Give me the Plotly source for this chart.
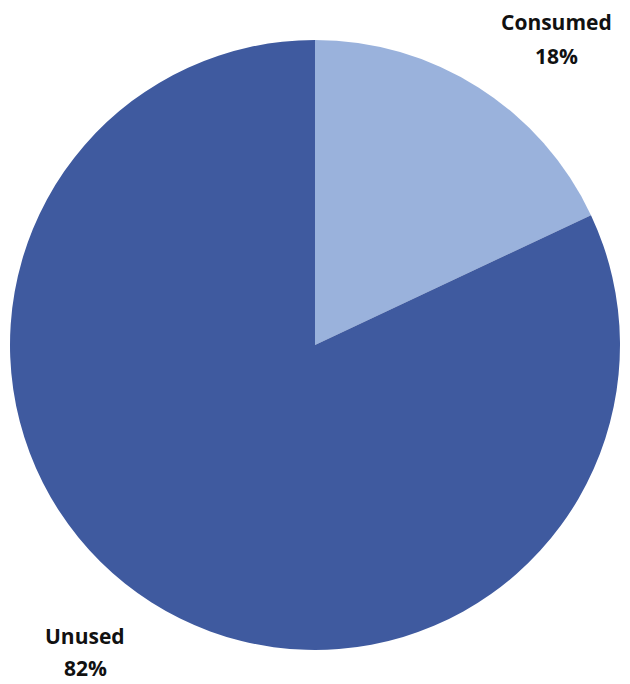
import plotly.graph_objects as go

labels = ["Consumed", "Unused"]
values = [18, 82]
colors = ["#9AB2DC", "#3F5A9F"]

W, H = 630, 684
OFF = 8  # page body margin offset
cx, cy, r = 315 - OFF, 345 - OFF, 305

fig = go.Figure(go.Pie(
    labels=labels,
    values=values,
    sort=False,
    direction="clockwise",
    rotation=0,
    marker=dict(colors=colors, line=dict(width=0)),
    textinfo="none",
    hoverinfo="label+percent",
    domain=dict(x=[(cx - r) / W, (cx + r) / W], y=[(H - cy - r) / H, (H - cy + r) / H]),
    showlegend=False,
))

# (x, y of name line, y of percent line) in pixels
label_pos = [(556, 22, 56), (85, 636, 668)]
font = dict(family="Open Sans, Liberation Sans, sans-serif", size=21, color="#111111")
for lab, val, (px, py1, py2) in zip(labels, values, label_pos):
    for txt, py in ((f"<b>{lab}</b>", py1), (f"<b>{val}%</b>", py2)):
        fig.add_annotation(
            x=(px - OFF) / W, y=1 - (py - OFF) / H, xref="paper", yref="paper",
            xanchor="center", yanchor="middle",
            text=txt, showarrow=False, font=font,
        )

fig.update_layout(
    width=W, height=H,
    margin=dict(l=0, r=0, t=0, b=0),
    paper_bgcolor="white", plot_bgcolor="white",
)

fig.write_html("out.html")
